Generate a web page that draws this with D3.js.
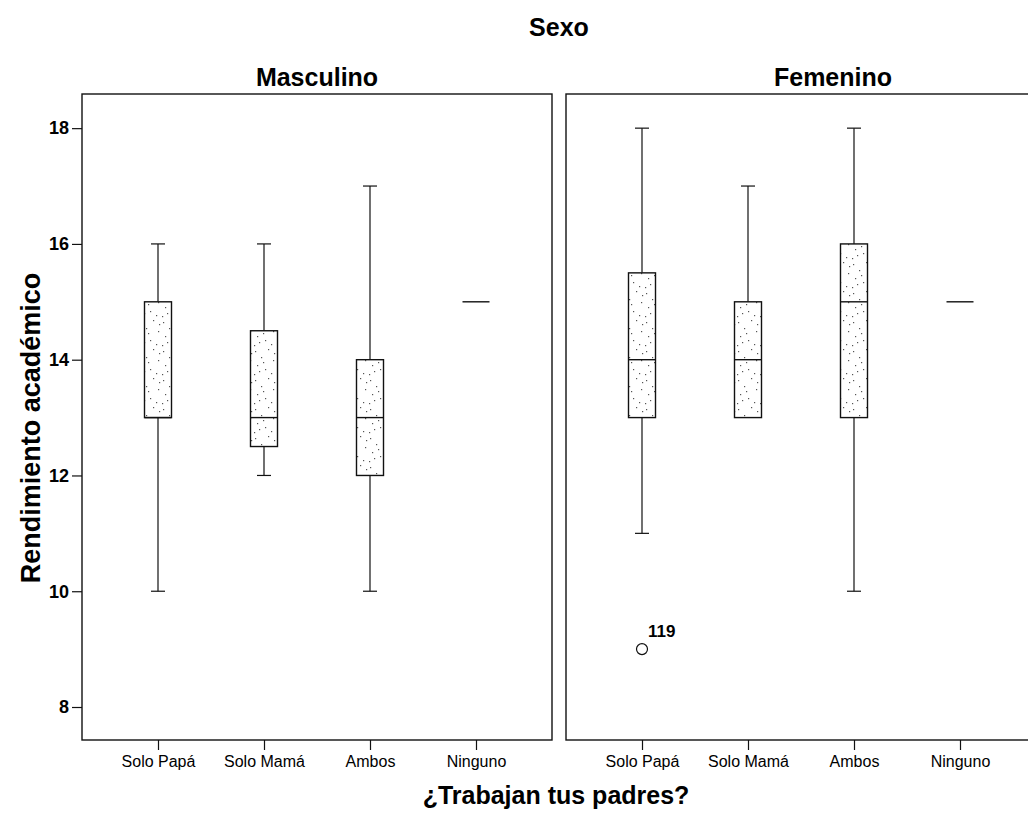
<!DOCTYPE html>
<html>
<head>
<meta charset="utf-8">
<script src="https://cdn.jsdelivr.net/npm/d3@7/dist/d3.min.js"></script>
<style>
  html, body { margin: 0; padding: 0; background: #fff; overflow: hidden; }
  svg { display: block; }
  text { font-family: "Liberation Sans", Arial, sans-serif; fill: #000; }
</style>
</head>
<body>
<svg id="chart" width="1028" height="819"></svg>
<script>
// ---- Data ----
const categories = ["Solo Papá", "Solo Mamá", "Ambos", "Ninguno"];
const panels = ["Masculino", "Femenino"];
const yTicks = [8, 10, 12, 14, 16, 18];

const mascLow    = [10, 12,   10, 15];
const mascQ1     = [13, 12.5, 12, 15];
const mascMedian = [13, 13,   13, 15];
const mascQ3     = [15, 14.5, 14, 15];
const mascHigh   = [16, 16,   17, 15];

const femLow     = [11,   13, 10, 15];
const femQ1      = [13,   13, 13, 15];
const femMedian  = [14,   14, 15, 15];
const femQ3      = [15.5, 15, 16, 15];
const femHigh    = [18,   17, 18, 15];

const outlierPanel = ["Femenino"];
const outlierCat   = ["Solo Papá"];
const outlierValue = [9];
const outlierLabel = ["119"];

const stats = {
  Masculino: categories.map((c, i) => ({cat: c, low: mascLow[i], q1: mascQ1[i], med: mascMedian[i], q3: mascQ3[i], high: mascHigh[i]})),
  Femenino:  categories.map((c, i) => ({cat: c, low: femLow[i],  q1: femQ1[i],  med: femMedian[i],  q3: femQ3[i],  high: femHigh[i]}))
};

// ---- Layout ----
const svg = d3.select("#chart");
const plotTop = 94, plotBottom = 740;
const panelX = {Masculino: [82, 552], Femenino: [566, 1036]};
const boxW = 27, capW = 14;

const y = d3.scaleLinear().domain([7.43, 18.59]).range([plotBottom, plotTop]);

// stipple pattern (decorative texture)
const defs = svg.append("defs");
const pat = defs.append("pattern").attr("id", "stipple")
  .attr("patternUnits", "userSpaceOnUse").attr("width", 23).attr("height", 29);
pat.append("rect").attr("width", 23).attr("height", 29).attr("fill", "#fff");
const dots = [[2,3],[15,1],[8,9],[20,12],[4,17],[12,21],[18,25],[1,26],[10,14],[21,5],[6,23]];
pat.selectAll("rect.d").data(dots).enter().append("rect").attr("class", "d")
  .attr("x", d => d[0]).attr("y", d => d[1]).attr("width", 1.2).attr("height", 1.2)
  .attr("fill", "#555");

panels.forEach(p => {
  const [x0, x1] = panelX[p];
  const x = d3.scalePoint().domain(categories).range([x0, x1]).padding(0.717);

  // frame
  svg.append("rect").attr("x", x0).attr("y", plotTop).attr("width", x1 - x0).attr("height", plotBottom - plotTop)
    .attr("fill", "none").attr("stroke", "#111").attr("stroke-width", 1.4);

  // x axis
  const gx = svg.append("g").attr("transform", `translate(0,${plotBottom})`)
    .call(d3.axisBottom(x).tickSize(10).tickPadding(6));
  gx.select(".domain").remove();
  gx.selectAll(".tick line").attr("stroke", "#111").attr("stroke-width", 1.2);
  gx.selectAll(".tick text").attr("font-size", 16).attr("fill", "#000")
    .style("font-family", "'Liberation Sans', Arial, sans-serif");

  // panel title
  svg.append("text").attr("x", p === "Masculino" ? (x0 + x1) / 2 : 833).attr("y", 86)
    .attr("text-anchor", "middle").attr("font-size", 25).attr("font-weight", "bold").text(p);

  const g = svg.append("g");
  const b = g.selectAll("g.box").data(stats[p]).enter().append("g").attr("class", "box");
  // whiskers
  b.append("line").attr("x1", d => x(d.cat)).attr("x2", d => x(d.cat))
    .attr("y1", d => y(d.high)).attr("y2", d => y(d.q3)).attr("stroke", "#111").attr("stroke-width", 1.2);
  b.append("line").attr("x1", d => x(d.cat)).attr("x2", d => x(d.cat))
    .attr("y1", d => y(d.q1)).attr("y2", d => y(d.low)).attr("stroke", "#111").attr("stroke-width", 1.2);
  // caps
  b.filter(d => d.high > d.q3).append("line").attr("x1", d => x(d.cat) - capW / 2).attr("x2", d => x(d.cat) + capW / 2)
    .attr("y1", d => y(d.high)).attr("y2", d => y(d.high)).attr("stroke", "#111").attr("stroke-width", 1.2);
  b.filter(d => d.low < d.q1).append("line").attr("x1", d => x(d.cat) - capW / 2).attr("x2", d => x(d.cat) + capW / 2)
    .attr("y1", d => y(d.low)).attr("y2", d => y(d.low)).attr("stroke", "#111").attr("stroke-width", 1.2);
  // box
  b.append("rect").attr("x", d => x(d.cat) - boxW / 2).attr("width", boxW)
    .attr("y", d => y(d.q3)).attr("height", d => y(d.q1) - y(d.q3))
    .attr("fill", "url(#stipple)").attr("stroke", "#111").attr("stroke-width", 1.4);
  // median
  b.append("line").attr("x1", d => x(d.cat) - boxW / 2).attr("x2", d => x(d.cat) + boxW / 2)
    .attr("y1", d => y(d.med)).attr("y2", d => y(d.med)).attr("stroke", "#111").attr("stroke-width", 1.4);

  // outliers
  outlierValue.forEach((v, i) => {
    if (outlierPanel[i] !== p) return;
    svg.append("circle").attr("cx", x(outlierCat[i])).attr("cy", y(v)).attr("r", 5.5)
      .attr("fill", "#fff").attr("stroke", "#111").attr("stroke-width", 1.2);
    svg.append("text").attr("x", x(outlierCat[i]) + 6).attr("y", y(v) - 12)
      .attr("font-size", 17).attr("font-weight", "bold").text(outlierLabel[i]);
  });
});

// y axis
const gy = svg.append("g").attr("transform", `translate(${panelX.Masculino[0]},0)`)
  .call(d3.axisLeft(y).tickValues(yTicks).tickSize(10).tickPadding(3));
gy.select(".domain").remove();
gy.selectAll(".tick line").attr("stroke", "#111").attr("stroke-width", 1.2);
gy.selectAll(".tick text").attr("font-size", 18).attr("font-weight", "bold").attr("fill", "#000")
  .style("font-family", "'Liberation Sans', Arial, sans-serif");

// titles
svg.append("text").attr("x", 559).attr("y", 36).attr("text-anchor", "middle")
  .attr("font-size", 25).attr("font-weight", "bold").text("Sexo");
svg.append("text").attr("transform", "translate(40,428) rotate(-90)").attr("text-anchor", "middle")
  .attr("font-size", 27).attr("font-weight", "bold").text("Rendimiento académico");
svg.append("text").attr("x", 556).attr("y", 804).attr("text-anchor", "middle")
  .attr("font-size", 25).attr("font-weight", "bold").text("¿Trabajan tus padres?");
</script>
</body>
</html>
